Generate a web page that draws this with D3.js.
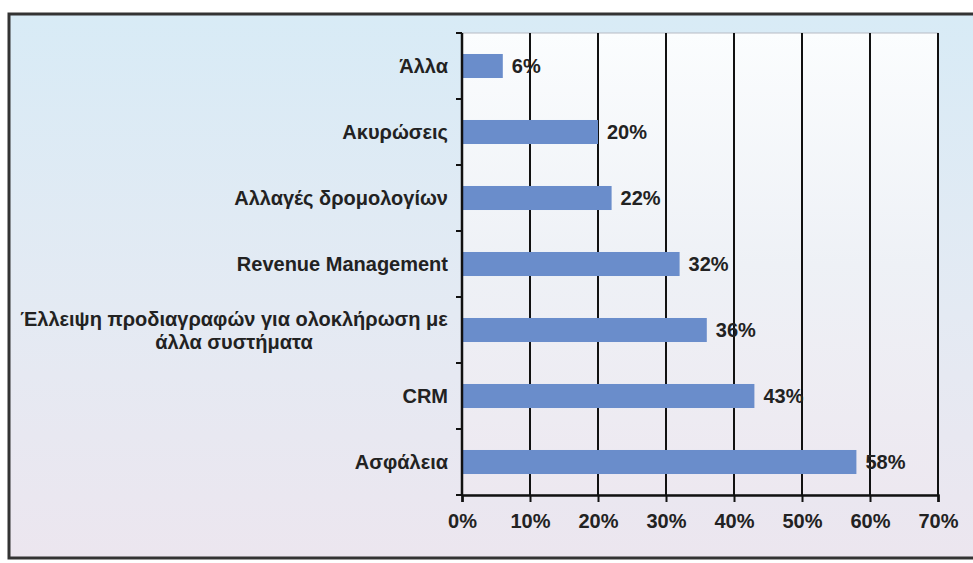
<!DOCTYPE html>
<html>
<head>
<meta charset="utf-8">
<script src="https://cdn.jsdelivr.net/npm/d3@7"></script>
<style>
  body { margin: 0; background: #fff; }
  svg text { font-family: "Liberation Sans", Arial, sans-serif; font-weight: bold; fill: #222; }
</style>
</head>
<body>
<svg width="973" height="563"></svg>
<script>
// categories top to bottom, "\n" marks a wrapped label
var categories = [
  "Άλλα",
  "Ακυρώσεις",
  "Αλλαγές δρομολογίων",
  "Revenue Management",
  "Έλλειψη προδιαγραφών για ολοκλήρωση με\nάλλα συστήματα",
  "CRM",
  "Ασφάλεια"
];
var values = [6, 20, 22, 32, 36, 43, 58];
var xTicks = [0, 10, 20, 30, 40, 50, 60, 70];

var svg = d3.select("svg"),
    width = +svg.attr("width"),
    height = +svg.attr("height");

var plotLeft = 462, plotRight = 938, plotTop = 33, plotBottom = 495;
var fontSize = "20px";

var defs = svg.append("defs");
var bg = defs.append("linearGradient").attr("id", "bg")
    .attr("x1", 0).attr("y1", 0).attr("x2", 0).attr("y2", 1);
bg.append("stop").attr("offset", "0%").attr("stop-color", "#d8ebf6");
bg.append("stop").attr("offset", "55%").attr("stop-color", "#e4eaf3");
bg.append("stop").attr("offset", "100%").attr("stop-color", "#ece6ef");

var plotBg = defs.append("linearGradient").attr("id", "plotbg")
    .attr("x1", 0).attr("y1", 0).attr("x2", 0).attr("y2", 1);
plotBg.append("stop").attr("offset", "0%").attr("stop-color", "#fbfdfe");
plotBg.append("stop").attr("offset", "50%").attr("stop-color", "#eef1f6");
plotBg.append("stop").attr("offset", "100%").attr("stop-color", "#ede8f0");

// outer frame
svg.append("rect")
    .attr("x", 9).attr("y", 14)
    .attr("width", width + 10).attr("height", 544)
    .attr("fill", "url(#bg)")
    .attr("stroke", "#333")
    .attr("stroke-width", 3);

// plot area
svg.append("rect")
    .attr("x", plotLeft).attr("y", plotTop)
    .attr("width", plotRight - plotLeft).attr("height", plotBottom - plotTop)
    .attr("fill", "url(#plotbg)")
    .attr("stroke", "#b8bcc4")
    .attr("stroke-width", 1);

var x = d3.scaleLinear().domain([0, 70]).range([plotLeft, plotRight]);
var y = d3.scaleBand().domain(categories).range([plotTop, plotBottom])
    .paddingInner(0.636).paddingOuter(0.318);

// gridlines
svg.append("g").selectAll("line")
    .data(xTicks.slice(1))
    .enter().append("line")
    .attr("x1", function(d) { return x(d); })
    .attr("x2", function(d) { return x(d); })
    .attr("y1", plotTop)
    .attr("y2", plotBottom)
    .attr("stroke", "#111")
    .attr("stroke-width", 2);

// bars
svg.append("g").selectAll("rect")
    .data(values)
    .enter().append("rect")
    .attr("x", x(0) + 1)
    .attr("y", function(d, i) { return y(categories[i]); })
    .attr("width", function(d) { return x(d) - x(0) - 1; })
    .attr("height", y.bandwidth())
    .attr("fill", "#6a8dcb");

// value labels
svg.append("g").selectAll("text")
    .data(values)
    .enter().append("text")
    .attr("x", function(d) { return x(d) + 9; })
    .attr("y", function(d, i) { return y(categories[i]) + y.bandwidth() / 2; })
    .attr("dy", "0.35em")
    .style("font-size", fontSize)
    .text(function(d) { return d + "%"; });

// x axis
var xAxis = svg.append("g")
    .attr("transform", "translate(0," + plotBottom + ")")
    .call(d3.axisBottom(x).tickValues(xTicks).tickSize(7).tickFormat(function(d) { return d + "%"; }));
xAxis.select(".domain").attr("stroke", "#111").attr("stroke-width", 2.5);
xAxis.selectAll(".tick line").attr("stroke", "#111").attr("stroke-width", 2);
xAxis.selectAll(".tick text")
    .attr("y", 19)
    .style("font-size", fontSize)
    .style("font-family", "'Liberation Sans', Arial, sans-serif")
    .attr("fill", "#222");

// y axis line and ticks at band boundaries
var step = y.step();
var bounds = categories.map(function(c) { return y(c) + y.bandwidth() / 2 - step / 2; });
bounds.push(plotBottom);
svg.append("line")
    .attr("x1", plotLeft).attr("x2", plotLeft)
    .attr("y1", plotTop).attr("y2", plotBottom)
    .attr("stroke", "#111").attr("stroke-width", 2.5);
svg.append("g").selectAll("line")
    .data(bounds)
    .enter().append("line")
    .attr("x1", plotLeft - 6).attr("x2", plotLeft)
    .attr("y1", function(d) { return d; })
    .attr("y2", function(d) { return d; })
    .attr("stroke", "#111").attr("stroke-width", 2);

// category labels
var catLabels = svg.append("g").selectAll("text")
    .data(categories)
    .enter().append("text")
    .style("font-size", fontSize)
    .attr("text-anchor", function(d) { return d.indexOf("\n") >= 0 ? "middle" : "end"; })
    .attr("y", function(d) { return y(d) + y.bandwidth() / 2; });

catLabels.each(function(d) {
  var lines = d.split("\n");
  var t = d3.select(this);
  var cy = y(d) + y.bandwidth() / 2;
  if (lines.length === 1) {
    t.attr("x", plotLeft - 14).attr("dy", "0.35em").text(d);
  } else {
    t.attr("x", 0);
    lines.forEach(function(line, i) {
      t.append("tspan")
        .attr("x", 0)
        .attr("y", cy + (i - (lines.length - 1) / 2) * 23)
        .attr("dy", "0.35em")
        .text(line);
    });
    // centre the block so its widest line ends at the same right edge
    var w = this.getBBox().width;
    t.selectAll("tspan").attr("x", plotLeft - 14 - w / 2);
  }
});
</script>
</body>
</html>
